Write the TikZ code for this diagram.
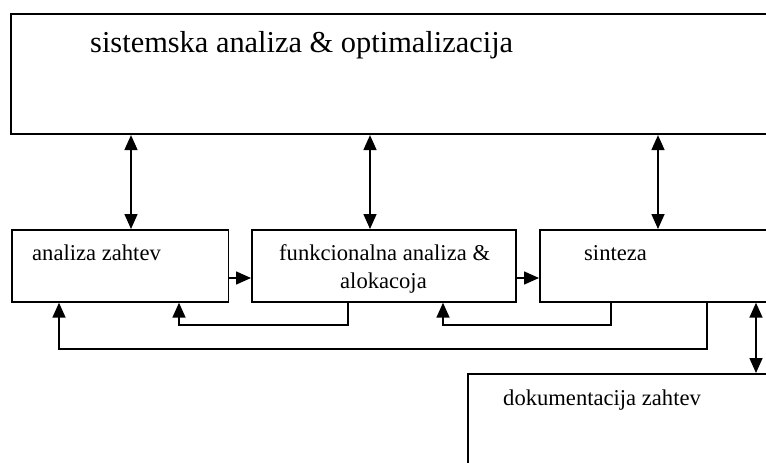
\documentclass[tikz,border=0pt]{standalone}
\usepackage{fontspec}
\setmainfont{Liberation Serif}
\usetikzlibrary{arrows.meta}
\begin{document}
\begin{tikzpicture}[x=1pt,y=-1pt,
  box/.style={draw=black,line width=1.7pt,anchor=north west,inner sep=0pt},
  bigtxt/.style={anchor=base west,inner sep=0pt,font=\fontsize{30.4}{36}\selectfont},
  txt/.style={anchor=base west,inner sep=0pt,font=\fontsize{22.6}{27}\selectfont},
  link/.style={line width=1.6pt,-{Triangle[length=15pt,width=13pt]}},
  dlink/.style={line width=1.6pt,{Triangle[length=15pt,width=13pt]}-{Triangle[length=15pt,width=13pt]}}]
\clip (0,0) rectangle (766,463);
\fill[white] (0,0) rectangle (766,463);

% boxes
\node[box,line width=2.1pt,minimum width=790pt,minimum height=120pt] (top) at (10,13) {};
\node[box,minimum width=216.5pt,minimum height=72pt] (A) at (11,229) {};
\node[box,minimum width=264pt,minimum height=72pt] (B) at (251,229) {};
\node[box,minimum width=260pt,minimum height=72pt] (C) at (539,229) {};
\node[box,minimum width=330pt,minimum height=120pt] (D) at (467,373) {};

% labels
\node[bigtxt] (ttop) at (90,52) {sistemska analiza \& optimalizacija};
\node[txt] (tA) at (32,260) {analiza zahtev};
\node[txt] (tB1) at (279,260) {funkcionalna analiza \&};
\node[txt] (tB2) at (340,288) {alokacoja};
\node[txt] (tC) at (584,260) {sinteza};
\node[txt] (tD) at (503,405) {dokumentacija zahtev};

% reference points for connectors
\coordinate (x1) at (131,0);
\coordinate (x2) at (370,0);
\coordinate (x3) at (658,0);
\coordinate (x4) at (756,0);
\coordinate (yh) at (0,278);
\coordinate (fa) at (348,325);
\coordinate (fb) at (179,0);
\coordinate (fc) at (611,325);
\coordinate (fd) at (443,0);
\coordinate (fe) at (707,349);
\coordinate (ff) at (59,0);

% links to the system level
\draw[dlink] (top.south -| x1) -- (A.north -| x1);
\draw[dlink] (top.south -| x2) -- (B.north -| x2);
\draw[dlink] (top.south -| x3) -- (C.north -| x3);

% forward flow
\draw[link] (A.east |- yh) -- (B.west |- yh);
\draw[link] (B.east |- yh) -- (C.west |- yh);

% feedback loops
\draw[link] (B.south -| fa) -- (fa) -| (A.south -| fb);
\draw[link] (C.south -| fc) -- (fc) -| (B.south -| fd);
\draw[link] (C.south -| fe) -- (fe) -| (A.south -| ff);

% documentation link
\draw[dlink] (C.south -| x4) -- (D.north -| x4);
\end{tikzpicture}
\end{document}
